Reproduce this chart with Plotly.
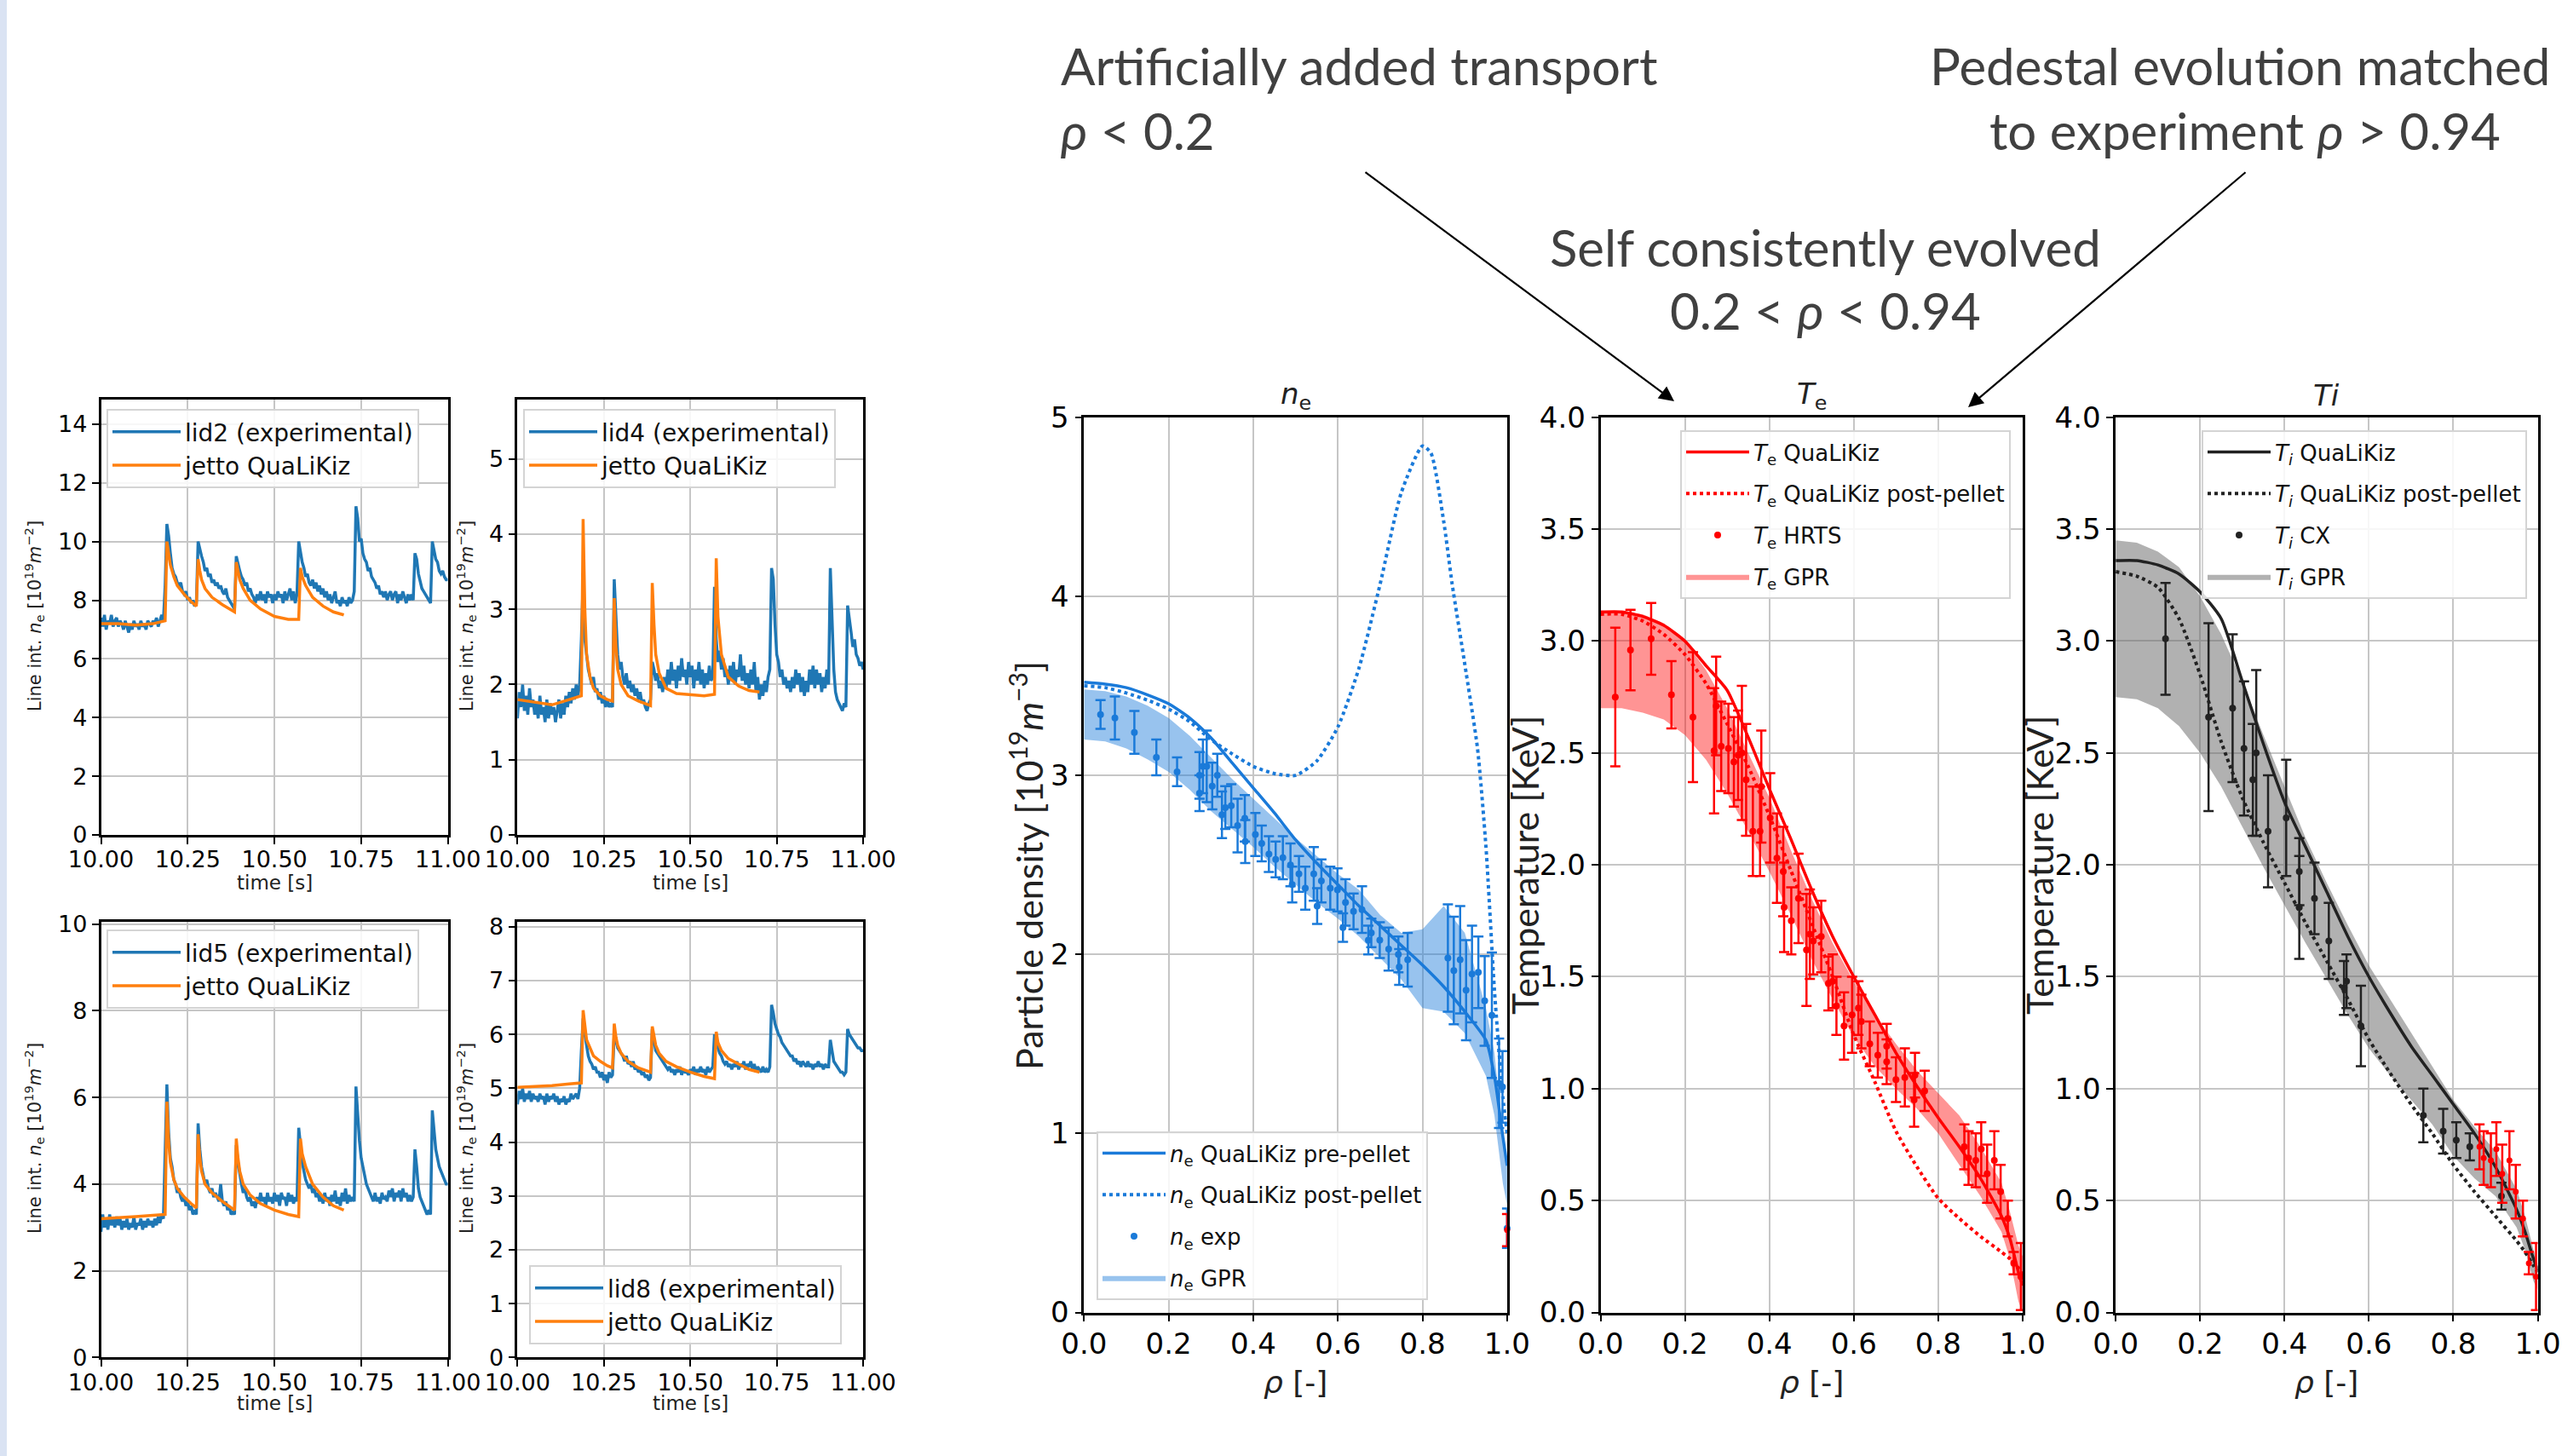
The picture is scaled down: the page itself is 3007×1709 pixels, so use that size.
import plotly.graph_objects as go

W, H = 3007, 1709

# ---------------- line-integrated density time traces ----------------
DT = 0.005  # sampling of experimental traces, starting at 10.00 s
lid2_exp = [7.4, 7.1, 7.5, 7.0, 7.3, 7.2, 7.5, 7.1, 7.3, 7.4,
            7.1, 7.3, 7.2, 7.0, 7.3, 7.1, 6.9, 7.2, 7.0, 7.3,
            7.1, 7.2, 7.0, 7.3, 7.1, 7.2, 7.0, 7.3, 7.2, 7.1,
            7.3, 7.2, 7.4, 7.1, 7.3, 7.5, 7.3,
            8.5, 10.6, 10.2, 9.6, 9.1, 8.9, 8.8, 8.6, 8.5, 8.6, 8.3, 8.2, 8.3, 8.0, 8.1, 7.9, 8.0, 7.8, 7.9,
            10.0, 9.7, 9.5, 9.3, 9.0, 9.1, 8.8, 8.9, 8.6, 8.7, 8.5, 8.6, 8.4, 8.5, 8.3, 8.2, 8.4, 8.1, 8.0, 7.9, 7.8, 7.7,
            9.5, 9.2, 9.0, 8.8, 8.7, 8.5, 8.6, 8.3, 8.4, 8.2, 8.1, 7.9, 8.2, 8.0, 8.3, 8.0, 8.2, 7.9, 8.3, 8.1,
            8.2, 7.9, 8.2, 8.0, 8.3, 8.1, 8.2, 7.9, 8.3, 8.0, 8.2, 8.4, 8.0, 8.3, 7.9, 8.2,
            10.0, 9.6, 9.3, 9.1, 8.8, 8.9, 8.6, 8.5, 8.7, 8.4, 8.6, 8.3, 8.5, 8.2, 8.4, 8.1, 8.3, 8.0, 8.2, 7.9,
            8.1, 8.3, 7.9, 8.0, 7.8, 8.1, 7.9, 8.0, 7.8, 8.1, 7.9, 8.0, 8.3,
            11.2, 10.8, 10.0, 10.1, 9.6, 9.4, 9.3, 9.0, 9.1, 8.8, 8.7, 8.6, 8.4, 8.5, 8.2, 8.3, 8.1, 8.3, 8.0, 8.2,
            8.3, 8.0, 8.2, 8.3, 7.9, 8.2, 8.0, 8.3, 8.1, 7.9, 8.2, 8.0, 8.2, 8.0,
            9.6, 9.4, 8.9, 8.6, 8.4, 8.3, 8.2, 8.1, 8.0, 7.9,
            10.0, 9.7, 9.4, 9.3, 9.0, 8.9, 9.0, 8.8, 8.7, 8.7]
lid4_exp = [1.55, 1.9, 1.7, 2.0, 1.65, 1.85, 1.6, 1.95, 1.7, 1.8,
            1.6, 1.75, 1.55, 1.85, 1.6, 1.7, 1.5, 1.8, 1.55, 1.75,
            1.6, 1.7, 1.5, 1.65, 1.8, 1.55, 1.75, 1.6, 1.85, 1.7,
            1.9, 1.75, 1.95, 1.8, 2.0, 1.85, 2.0,
            2.6, 3.4, 2.6, 2.4, 2.2, 2.1, 2.0, 2.1, 1.9, 1.95, 1.8, 1.9, 1.75, 1.85, 1.7, 1.8, 1.7, 1.75, 1.7,
            3.4, 2.8, 2.4, 2.2, 2.3, 2.1, 2.0, 2.15, 1.95, 2.05, 1.9, 2.0, 1.85, 1.95, 1.8, 1.9, 1.75, 1.8, 1.7, 1.65, 1.75, 1.8,
            2.3, 2.2, 2.05, 2.15, 1.95, 2.05, 1.9, 2.1, 1.95, 2.2, 2.0, 2.3, 2.05, 2.2, 1.95, 2.25, 2.05, 2.35, 2.1, 2.2,
            2.0, 2.3, 2.1, 2.25, 1.95, 2.2, 2.05, 2.3, 2.0, 2.2, 1.95, 2.15, 2.0, 2.25, 2.05, 2.1,
            3.3, 2.6, 2.3, 2.45, 2.2, 2.35, 2.1, 2.2, 2.0, 2.25, 2.05, 2.3, 2.0, 2.2, 2.1, 2.4, 2.05, 2.25, 2.0, 2.15,
            1.95, 2.2, 2.0, 2.3, 1.9, 2.1, 1.8, 2.0, 1.85, 2.05, 1.9, 2.1, 2.2,
            3.55, 3.4, 2.8, 2.4, 2.3, 2.1, 2.2, 2.0, 2.1, 1.95, 2.05, 1.9, 2.1, 1.95, 2.2, 2.0, 2.15, 1.9, 2.1, 1.85,
            2.05, 1.9, 2.2, 2.0, 2.25, 1.95, 2.2, 2.0, 2.15, 1.9, 2.1, 1.95, 2.2, 2.0,
            3.55, 2.9, 2.2, 1.9, 1.8, 1.75, 1.7, 1.65, 1.75, 1.7,
            3.05, 2.9, 2.7, 2.5, 2.6, 2.4, 2.35, 2.25, 2.3, 2.2]
lid5_exp = [2.9, 3.3, 3.0, 3.2, 2.95, 3.3, 3.05, 3.2, 3.0, 3.25,
            3.05, 3.2, 2.95, 3.15, 3.0, 3.2, 2.95, 3.1, 3.0, 3.25,
            2.95, 3.1, 3.05, 3.2, 2.95, 3.15, 3.0, 3.2, 3.05, 3.15,
            3.0, 3.2, 3.05, 3.25, 3.1, 3.3, 3.2,
            4.6, 6.3, 5.2, 4.6, 4.4, 4.1, 4.0, 3.8, 3.9, 3.7, 3.6, 3.7, 3.5, 3.6, 3.4, 3.5, 3.3, 3.4, 3.3,
            5.4, 4.8, 4.4, 4.2, 4.0, 4.1, 3.9, 3.8, 3.9, 3.7, 3.8, 3.7, 3.6, 4.0, 3.6, 3.5, 3.6, 3.4, 3.5, 3.3, 3.35, 3.3,
            4.9, 4.5, 4.2, 4.0, 3.8, 3.9, 3.7, 3.6, 3.7, 3.5, 3.6, 3.45, 3.7, 3.55, 3.8, 3.6, 3.7, 3.5, 3.8, 3.6,
            3.7, 3.55, 3.8, 3.6, 3.75, 3.5, 3.8, 3.65, 3.7, 3.5, 3.8, 3.6, 3.75, 3.55, 3.7, 3.6,
            5.3, 4.9, 4.5, 4.3, 4.1, 4.0, 3.9, 4.0, 3.8, 3.9, 3.7, 3.8, 3.6, 3.75, 3.55, 3.8, 3.6, 3.7, 3.5, 3.75,
            3.6, 3.85, 3.55, 3.7, 3.5, 3.8, 3.6, 3.9, 3.55, 3.75, 3.6, 3.7, 3.6,
            6.25, 5.6, 5.0, 4.6, 4.4, 4.2, 4.0, 3.9, 3.8, 3.7, 3.6, 3.8, 3.6, 3.7, 3.55, 3.8, 3.65, 3.7, 3.6, 3.85,
            3.7, 3.9, 3.6, 3.8, 3.7, 3.85, 3.6, 3.9, 3.7, 3.8, 3.6, 3.75, 3.6, 3.7,
            4.8, 4.4, 3.9, 3.7, 3.6, 3.5, 3.4, 3.3, 3.4, 3.3,
            5.7, 5.2, 4.8, 4.6, 4.4, 4.3, 4.2, 4.1, 4.0, 4.0]
lid8_exp = [4.7, 4.95, 4.8, 5.0, 4.75, 4.9, 4.8, 4.95, 4.75, 4.9,
            4.8, 4.85, 4.75, 4.9, 4.8, 4.85, 4.7, 4.9, 4.75, 4.85,
            4.8, 4.9, 4.75, 4.85, 4.7, 4.8, 4.75, 4.85, 4.7, 4.8,
            4.75, 4.9, 4.8, 4.85, 4.9, 4.8, 5.0,
            5.7, 6.3, 6.0, 5.8, 5.6, 5.5, 5.45, 5.35, 5.4, 5.3, 5.3, 5.2, 5.3, 5.15, 5.25, 5.1, 5.3, 5.2, 5.25,
            6.0, 5.9, 5.75, 5.7, 5.65, 5.6, 5.5, 5.6, 5.45, 5.5, 5.4, 5.5, 5.35, 5.4, 5.3, 5.35, 5.25, 5.3, 5.2, 5.25, 5.15, 5.2,
            6.1, 5.9, 5.7, 5.65, 5.6, 5.55, 5.5, 5.45, 5.4, 5.35, 5.4, 5.3, 5.35, 5.25, 5.35, 5.3, 5.4, 5.25, 5.35, 5.3,
            5.3, 5.25, 5.35, 5.3, 5.4, 5.25, 5.35, 5.3, 5.4, 5.3, 5.35, 5.25, 5.4, 5.3, 5.35, 5.4,
            6.0, 5.85, 5.75, 5.65, 5.6, 5.5, 5.45, 5.5, 5.4, 5.45, 5.35, 5.45, 5.4, 5.5, 5.35, 5.45, 5.4, 5.5, 5.35, 5.45,
            5.4, 5.5, 5.35, 5.45, 5.3, 5.4, 5.35, 5.3, 5.4, 5.3, 5.35, 5.3, 5.4,
            6.55, 6.4, 6.2, 6.1, 6.0, 5.95, 5.85, 5.8, 5.75, 5.7, 5.65, 5.6, 5.6, 5.5, 5.55, 5.45, 5.5, 5.4, 5.5, 5.45,
            5.4, 5.5, 5.4, 5.45, 5.35, 5.45, 5.4, 5.5, 5.4, 5.45, 5.35, 5.45, 5.4, 5.4,
            5.9, 5.7, 5.5, 5.45, 5.4, 5.35, 5.3, 5.3, 5.25, 5.3,
            6.1, 6.0, 5.95, 5.9, 5.85, 5.8, 5.75, 5.75, 5.7, 5.7]

t_sim = [10.00, 10.05, 10.10, 10.15, 10.185, 10.19, 10.195, 10.20, 10.21, 10.22, 10.24, 10.26, 10.275,
         10.28, 10.285, 10.29, 10.30, 10.32, 10.35, 10.385, 10.39, 10.395, 10.40, 10.41, 10.43, 10.46,
         10.50, 10.54, 10.57, 10.575, 10.58, 10.59, 10.61, 10.64, 10.67, 10.70]
lid2_sim = [7.2, 7.2, 7.15, 7.2, 7.3, 10.0, 9.6, 9.2, 8.8, 8.5, 8.2, 7.95, 7.8,
            9.4, 9.0, 8.7, 8.4, 8.1, 7.85, 7.6, 9.3, 9.0, 8.7, 8.4, 8.0, 7.7,
            7.45, 7.35, 7.35, 9.1, 8.8, 8.5, 8.1, 7.8, 7.6, 7.5]
lid4_sim = [1.8, 1.76, 1.73, 1.8, 1.85, 4.2, 3.0, 2.4, 2.1, 1.95, 1.85, 1.8, 1.78,
            3.15, 2.5, 2.2, 2.0, 1.85, 1.78, 1.72, 3.35, 2.8, 2.4, 2.15, 1.95, 1.88,
            1.86, 1.85, 1.87, 3.68, 2.9, 2.4, 2.1, 1.98, 1.92, 1.9]
lid5_sim = [3.2, 3.22, 3.25, 3.28, 3.3, 5.9, 5.0, 4.5, 4.1, 3.9, 3.7, 3.55, 3.45,
            5.15, 4.6, 4.3, 4.0, 3.8, 3.6, 3.4, 5.05, 4.6, 4.3, 4.0, 3.75, 3.55,
            3.4, 3.3, 3.25, 5.05, 4.7, 4.4, 4.0, 3.7, 3.5, 3.4]
lid8_sim = [5.02, 5.03, 5.05, 5.08, 5.1, 6.45, 6.1, 5.9, 5.75, 5.6, 5.5, 5.42, 5.38,
            6.2, 5.95, 5.8, 5.65, 5.5, 5.38, 5.3, 6.15, 5.95, 5.8, 5.65, 5.5, 5.4,
            5.3, 5.22, 5.18, 6.05, 5.85, 5.7, 5.55, 5.45, 5.35, 5.3]

time_ticks = [10.0, 10.25, 10.5, 10.75, 11.0]
time_ticklabels = ["10.00", "10.25", "10.50", "10.75", "11.00"]

# ---------------- profiles ----------------
rho_model = [0.0, 0.05, 0.1, 0.15, 0.2, 0.25, 0.3, 0.35, 0.4, 0.45, 0.5, 0.55, 0.6,
             0.65, 0.7, 0.75, 0.8, 0.85, 0.9, 0.95, 0.97, 0.99, 1.0]
ne_pre = [3.52, 3.51, 3.49, 3.45, 3.40, 3.32, 3.21, 3.07, 2.93, 2.79, 2.64, 2.51, 2.39,
          2.27, 2.16, 2.05, 1.94, 1.82, 1.68, 1.52, 1.32, 0.98, 0.82]
ne_gpr_hi = [3.48, 3.47, 3.44, 3.39, 3.32, 3.22, 3.10, 2.98, 2.87, 2.76, 2.65, 2.55, 2.45,
             2.36, 2.22, 2.12, 2.14, 2.27, 2.12, 1.70, 1.45, 1.00, 0.82]
ne_gpr_lo = [3.20, 3.19, 3.15, 3.09, 3.02, 2.92, 2.80, 2.70, 2.60, 2.49, 2.39, 2.29, 2.20,
             2.10, 1.98, 1.86, 1.70, 1.68, 1.56, 1.32, 1.10, 0.72, 0.60]
rho_ne_post = [0.0, 0.05, 0.1, 0.15, 0.2, 0.25, 0.3, 0.35, 0.4, 0.45, 0.5, 0.55, 0.6, 0.65,
               0.7, 0.75, 0.8, 0.82, 0.85, 0.87, 0.9, 0.93, 0.95, 0.97, 0.99, 1.0]
ne_post = [3.50, 3.49, 3.46, 3.42, 3.37, 3.30, 3.20, 3.12, 3.05, 3.01, 3.00, 3.08, 3.27, 3.60,
           4.07, 4.58, 4.84, 4.80, 4.42, 4.07, 3.62, 3.15, 2.60, 1.80, 1.20, 1.00]
ne_exp_rho = [0.039, 0.073, 0.119, 0.171, 0.220, 0.273, 0.273, 0.281, 0.290, 0.303,
              0.315, 0.326, 0.334, 0.348, 0.363, 0.380, 0.381, 0.405, 0.420, 0.437,
              0.453, 0.470, 0.488, 0.492, 0.508, 0.523, 0.543, 0.551, 0.561, 0.582,
              0.599, 0.612, 0.618, 0.637, 0.657, 0.672, 0.679, 0.699, 0.720, 0.743,
              0.745, 0.765, 0.860, 0.874, 0.889, 0.903, 0.917, 0.932, 0.947, 0.964,
              0.981, 0.989, 1.0]
ne_exp = [3.34, 3.32, 3.24, 3.10, 3.02, 3.00, 2.90, 3.05, 3.05, 2.94,
          3.00, 2.78, 2.82, 2.83, 2.72, 2.76, 2.63, 2.67, 2.62, 2.56,
          2.53, 2.54, 2.50, 2.39, 2.45, 2.37, 2.45, 2.27, 2.41, 2.37,
          2.36, 2.15, 2.29, 2.24, 2.25, 2.08, 2.12, 2.08, 2.03, 2.00,
          1.93, 1.97, 1.98, 1.91, 1.97, 1.80, 1.89, 1.90, 1.74, 1.66,
          1.28, 1.26, 0.47]
ne_exp_err = [0.08, 0.12, 0.12, 0.10, 0.08, 0.13, 0.10, 0.15, 0.20, 0.13,
              0.12, 0.13, 0.12, 0.12, 0.15, 0.13, 0.12, 0.12, 0.10, 0.10,
              0.10, 0.12, 0.12, 0.10, 0.10, 0.12, 0.15, 0.10, 0.12, 0.12,
              0.12, 0.08, 0.13, 0.10, 0.13, 0.08, 0.08, 0.10, 0.12, 0.10,
              0.10, 0.15, 0.30, 0.30, 0.30, 0.28, 0.27, 0.20, 0.25, 0.35,
              0.25, 0.20, 0.11]
ne_edge_rho = [1.0]
ne_edge_val = [0.46]
ne_edge_err = [0.09]

te_qlk = [3.13, 3.13, 3.11, 3.07, 3.00, 2.89, 2.78, 2.57, 2.34, 2.12, 1.89, 1.68, 1.50,
          1.33, 1.16, 1.01, 0.87, 0.74, 0.60, 0.43, 0.33, 0.18, 0.12]
te_post = [3.12, 3.12, 3.09, 3.03, 2.94, 2.81, 2.63, 2.44, 2.22, 1.98, 1.74, 1.50, 1.24,
           1.03, 0.81, 0.65, 0.51, 0.42, 0.34, 0.27, 0.24, 0.20, 0.17]
te_gpr_hi = [3.13, 3.13, 3.12, 3.08, 3.00, 2.87, 2.70, 2.50, 2.30, 2.07, 1.85, 1.65, 1.48,
             1.33, 1.20, 1.08, 0.98, 0.88, 0.74, 0.58, 0.45, 0.30, 0.25]
te_gpr_lo = [2.70, 2.70, 2.68, 2.65, 2.58, 2.47, 2.32, 2.15, 1.97, 1.78, 1.58, 1.40, 1.23,
             1.10, 1.00, 0.91, 0.80, 0.66, 0.52, 0.36, 0.24, 0.05, 0.00]
te_hrts_rho = [0.035, 0.071, 0.120, 0.168, 0.219, 0.269, 0.274, 0.286, 0.303, 0.316,
               0.326, 0.335, 0.345, 0.361, 0.378, 0.381, 0.402, 0.418, 0.433, 0.435,
               0.452, 0.469, 0.488, 0.496, 0.504, 0.523, 0.540, 0.550, 0.559, 0.577,
               0.596, 0.611, 0.618, 0.638, 0.657, 0.678, 0.678, 0.700, 0.721, 0.743,
               0.745, 0.768, 0.862, 0.872, 0.889, 0.902, 0.916, 0.933, 0.948, 0.965,
               0.979, 0.996]
te_hrts = [2.75, 2.96, 3.01, 2.76, 2.66, 2.51, 2.71, 2.53, 2.52, 2.46,
           2.49, 2.50, 2.38, 2.15, 2.15, 2.35, 2.21, 2.03, 1.97, 1.81,
           1.75, 1.85, 1.62, 1.69, 1.66, 1.68, 1.47, 1.48, 1.37, 1.28,
           1.33, 1.36, 1.30, 1.20, 1.15, 1.19, 1.12, 1.04, 1.05, 0.95,
           1.06, 0.99, 0.74, 0.69, 0.68, 0.73, 0.62, 0.68, 0.54, 0.42,
           0.22, 0.16]
te_hrts_err = [0.31, 0.18, 0.16, 0.15, 0.29, 0.28, 0.22, 0.20, 0.20, 0.20,
               0.20, 0.30, 0.25, 0.20, 0.20, 0.25, 0.20, 0.20, 0.20, 0.20,
               0.15, 0.20, 0.25, 0.20, 0.15, 0.16, 0.12, 0.12, 0.13, 0.15,
               0.17, 0.12, 0.12, 0.10, 0.10, 0.10, 0.10, 0.10, 0.13, 0.12,
               0.10, 0.09, 0.10, 0.12, 0.12, 0.12, 0.13, 0.13, 0.12, 0.08,
               0.05, 0.15]

ti_qlk = [3.36, 3.36, 3.34, 3.30, 3.22, 3.10, 2.82, 2.54, 2.28, 2.08, 1.88, 1.68, 1.50,
          1.34, 1.19, 1.06, 0.93, 0.80, 0.65, 0.46, 0.36, 0.24, 0.19]
ti_post = [3.31, 3.29, 3.24, 3.10, 2.85, 2.55, 2.30, 2.10, 1.92, 1.74, 1.57, 1.40, 1.22,
           1.07, 0.93, 0.80, 0.66, 0.54, 0.43, 0.32, 0.27, 0.21, 0.18]
ti_gpr_hi = [3.45, 3.44, 3.40, 3.33, 3.20, 3.03, 2.82, 2.58, 2.35, 2.12, 1.92, 1.73, 1.55,
             1.40, 1.25, 1.10, 0.95, 0.83, 0.72, 0.55, 0.43, 0.28, 0.22]
ti_gpr_lo = [2.75, 2.74, 2.70, 2.62, 2.50, 2.35, 2.17, 1.99, 1.82, 1.65, 1.49, 1.33, 1.18,
             1.06, 0.95, 0.84, 0.70, 0.60, 0.52, 0.38, 0.28, 0.14, 0.10]
ti_cx_rho = [0.118, 0.220, 0.277, 0.304, 0.325, 0.333, 0.361, 0.404, 0.435, 0.435,
             0.471, 0.505, 0.541, 0.547, 0.581, 0.729, 0.776, 0.807, 0.839, 0.914]
ti_cx = [3.01, 2.66, 2.70, 2.52, 2.38, 2.50, 2.15, 2.21, 1.97, 1.81,
         1.85, 1.66, 1.45, 1.48, 1.28, 0.88, 0.81, 0.77, 0.74, 0.52]
ti_cx_err = [0.25, 0.42, 0.33, 0.30, 0.25, 0.37, 0.25, 0.26, 0.15, 0.23,
             0.16, 0.17, 0.12, 0.12, 0.18, 0.12, 0.10, 0.08, 0.06, 0.06]

# ---------------- styling ----------------
C_BLUE_MPL = "#1f77b4"
C_ORANGE_MPL = "#ff7f0e"
C_NE = "#1a7ad9"
C_TE = "#ff0000"
C_TI = "#222222"


def px(x):
    return x / W


def py(y):
    return 1 - y / H


def t_axis(vals):
    return [round(10 + DT * i, 4) for i in range(len(vals))]


fig = go.Figure()

small = [
    (1, lid2_exp, lid2_sim, "lid2 (experimental)", "legend"),
    (2, lid4_exp, lid4_sim, "lid4 (experimental)", "legend2"),
    (3, lid5_exp, lid5_sim, "lid5 (experimental)", "legend3"),
    (4, lid8_exp, lid8_sim, "lid8 (experimental)", "legend4"),
]
for idx, exp, sim, lab, leg in small:
    xr = "x" if idx == 1 else f"x{idx}"
    yr = "y" if idx == 1 else f"y{idx}"
    fig.add_trace(go.Scatter(x=t_axis(exp), y=exp, mode="lines", name=lab,
                             line=dict(color=C_BLUE_MPL, width=3.5),
                             xaxis=xr, yaxis=yr, legend=leg))
    fig.add_trace(go.Scatter(x=t_sim, y=sim, mode="lines", name="jetto QuaLiKiz",
                             line=dict(color=C_ORANGE_MPL, width=3.5),
                             xaxis=xr, yaxis=yr, legend=leg))


def band(rho, lo, hi):
    return list(rho) + list(rho[::-1]), list(hi) + list(lo[::-1])


def profile(idx, leg, color, fillcol, solid, dotted_rho, dotted, gpr_lo, gpr_hi,
            prho, pval, perr, names):
    xr, yr = f"x{idx}", f"y{idx}"
    bx, by = band(rho_model, gpr_lo, gpr_hi)
    fig.add_trace(go.Scatter(x=bx, y=by, fill="toself", fillcolor=fillcol, mode="lines",
                             line=dict(width=0, color=fillcol), name=names[3],
                             xaxis=xr, yaxis=yr, legend=leg, legendrank=4,
                             legendgroup=f"{leg}d"))
    fig.add_trace(go.Scatter(x=rho_model, y=solid, mode="lines", name=names[0],
                             line=dict(color=color, width=3.5, shape="spline", smoothing=0.6),
                             xaxis=xr, yaxis=yr, legend=leg, legendrank=1,
                             legendgroup=f"{leg}a"))
    fig.add_trace(go.Scatter(x=dotted_rho, y=dotted, mode="lines", name=names[1],
                             line=dict(color=color, width=4, dash="dot", shape="spline",
                                       smoothing=0.6),
                             xaxis=xr, yaxis=yr, legend=leg, legendrank=2,
                             legendgroup=f"{leg}b"))
    fig.add_trace(go.Scatter(x=prho, y=pval, mode="markers", name=names[2],
                             marker=dict(color=color, size=8),
                             error_y=dict(type="data", array=perr, color=color,
                                          thickness=2.5, width=6),
                             cliponaxis=False,
                             xaxis=xr, yaxis=yr, legend=leg, legendrank=3,
                             legendgroup=f"{leg}c"))


NE = "<i>n</i><sub>e</sub>"
TE = "<i>T</i><sub>e</sub>"
TI = "<i>T</i><sub><i>i</i></sub>"
profile(5, "legend5", C_NE, "rgba(26,122,217,0.45)", ne_pre, rho_ne_post, ne_post,
        ne_gpr_lo, ne_gpr_hi, ne_exp_rho, ne_exp, ne_exp_err,
        [f"{NE} QuaLiKiz pre-pellet", f"{NE} QuaLiKiz post-pellet", f"{NE} exp", f"{NE} GPR"])
fig.add_trace(go.Scatter(x=ne_edge_rho, y=ne_edge_val, mode="markers", showlegend=False,
                         marker=dict(color=C_TE, size=7),
                         error_y=dict(type="data", array=ne_edge_err, color=C_TE,
                                      thickness=2.5, width=6),
                         cliponaxis=False, xaxis="x5", yaxis="y5"))
profile(6, "legend6", C_TE, "rgba(255,0,0,0.42)", te_qlk, rho_model, te_post,
        te_gpr_lo, te_gpr_hi, te_hrts_rho, te_hrts, te_hrts_err,
        [f"{TE} QuaLiKiz", f"{TE} QuaLiKiz post-pellet", f"{TE} HRTS", f"{TE} GPR"])
profile(7, "legend7", C_TI, "rgba(100,100,100,0.5)", ti_qlk, rho_model, ti_post,
        ti_gpr_lo, ti_gpr_hi, ti_cx_rho, ti_cx, ti_cx_err,
        [f"{TI} QuaLiKiz", f"{TI} QuaLiKiz post-pellet", f"{TI} CX", f"{TI} GPR"])
edge_rho = [r for r in te_hrts_rho if r > 0.85]
edge_val = [v for r, v in zip(te_hrts_rho, te_hrts) if r > 0.85]
edge_err = [e for r, e in zip(te_hrts_rho, te_hrts_err) if r > 0.85]
fig.add_trace(go.Scatter(x=edge_rho, y=edge_val, mode="markers", showlegend=False,
                         marker=dict(color=C_TE, size=7),
                         error_y=dict(type="data", array=edge_err, color=C_TE,
                                      thickness=2.5, width=6),
                         cliponaxis=False, xaxis="x7", yaxis="y7"))

# ---------------- axes ----------------
common = dict(showline=True, mirror=True, linecolor="black", linewidth=2.5,
              ticks="outside", ticklen=8, tickwidth=2, tickcolor="black",
              showgrid=True, gridcolor="#c6c6c6", gridwidth=2, zeroline=False,
              automargin=False, fixedrange=True)
small_font = dict(family="DejaVu Sans", size=27, color="black")
big_font = dict(family="DejaVu Sans", size=34, color="black")

sx_left = [px(118.5), px(525.7)]
sx_right = [px(607.3), px(1013.1)]
sy_top = [py(980), py(469)]
sy_bot = [py(1593.4), py(1081.5)]
small_specs = [
    (1, sx_left, sy_top, [0, 14.84], 2),
    (2, sx_right, sy_top, [0, 5.79], 1),
    (3, sx_left, sy_bot, [0, 10.06], 2),
    (4, sx_right, sy_bot, [0, 8.1], 1),
]
layout_axes = {}
for idx, xd, yd, yrange, dt in small_specs:
    xs = "xaxis" if idx == 1 else f"xaxis{idx}"
    ys = "yaxis" if idx == 1 else f"yaxis{idx}"
    an_y = "y" if idx == 1 else f"y{idx}"
    an_x = "x" if idx == 1 else f"x{idx}"
    layout_axes[xs] = dict(domain=xd, anchor=an_y, range=[10, 11], tickvals=time_ticks,
                           ticktext=time_ticklabels, tickfont=small_font,
                           ticklabelstandoff=-5, **common)
    layout_axes[ys] = dict(domain=yd, anchor=an_x, range=yrange, dtick=dt, tick0=0,
                           tickfont=small_font, **common)

big_y = [py(1540.5), py(489.8)]
big_specs = [
    (5, [px(1272.3), px(1768.9)], [0, 5], 1, None),
    (6, [px(1878.5), px(2373.9)], [0, 4], 0.5, ".1f"),
    (7, [px(2483.2), px(2978.5)], [0, 4], 0.5, ".1f"),
]
for idx, xd, yrange, dt, fmt in big_specs:
    layout_axes[f"xaxis{idx}"] = dict(domain=xd, anchor=f"y{idx}", range=[0, 1], dtick=0.2,
                                      tick0=0, tickformat=".1f", tickfont=big_font,
                                      ticklabelstandoff=-3, **common)
    yd = dict(domain=big_y, anchor=f"x{idx}", range=yrange, dtick=dt, tick0=0,
              tickfont=big_font, **common)
    if fmt:
        yd["tickformat"] = fmt
    layout_axes[f"yaxis{idx}"] = yd

# ---------------- legends ----------------
small_leg = dict(font=dict(family="DejaVu Sans", size=28, color="#111111"),
                 bgcolor="rgba(255,255,255,0.85)", bordercolor="#d4d4d4", borderwidth=2,
                 itemwidth=80, xanchor="left", yanchor="top")
big_leg = dict(font=dict(family="DejaVu Sans", size=26, color="#111111"),
               bgcolor="rgba(255,255,255,0.85)", bordercolor="#d4d4d4", borderwidth=2,
               itemwidth=74, traceorder="grouped", tracegroupgap=12)
legends = dict(
    legend=dict(small_leg, x=px(125), y=py(480)),
    legend2=dict(small_leg, x=px(614), y=py(480)),
    legend3=dict(small_leg, x=px(125), y=py(1091)),
    legend4=dict(small_leg, x=px(621), y=py(1578), yanchor="bottom"),
    legend5=dict(big_leg, x=px(1287), y=py(1526), xanchor="left", yanchor="bottom"),
    legend6=dict(big_leg, x=px(2360), y=py(505), xanchor="right", yanchor="top"),
    legend7=dict(big_leg, x=px(2966), y=py(505), xanchor="right", yanchor="top"),
)

# ---------------- annotations ----------------
ann = []
ylab_small = "Line int. <i>n</i><sub>e</sub> [10<sup>19</sup><i>m</i><sup>−2</sup>]"
for xc, yc in [(40, 723), (547, 723), (40, 1336), (547, 1336)]:
    ann.append(dict(text=ylab_small, x=px(xc), y=py(yc), xref="paper", yref="paper",
                    textangle=-90, showarrow=False, xanchor="center", yanchor="middle",
                    font=dict(family="DejaVu Sans", size=21, color="#222222")))
for xc, yc in [(322, 1036), (810, 1036), (322, 1647), (810, 1647)]:
    ann.append(dict(text="time [s]", x=px(xc), y=py(yc), xref="paper", yref="paper",
                    showarrow=False, xanchor="center", yanchor="middle",
                    font=dict(family="DejaVu Sans", size=23, color="#222222")))

for xc in [1520.6, 2126.2, 2730.9]:
    ann.append(dict(text="<i>ρ</i> [-]", x=px(xc), y=py(1622), xref="paper", yref="paper",
                    showarrow=False, xanchor="center", yanchor="middle",
                    font=dict(family="DejaVu Sans", size=36, color="#222222")))
for xc, t in [(1520.6, NE), (2126.2, TE), (2730.9, "<i>Ti</i>")]:
    ann.append(dict(text=t, x=px(xc), y=py(464), xref="paper", yref="paper",
                    showarrow=False, xanchor="center", yanchor="middle",
                    font=dict(family="DejaVu Sans", size=34, color="#222222")))

ann.append(dict(text="Particle density [10<sup>19</sup><i>m</i><sup>−3</sup>]",
                x=px(1204), y=py(1016), xref="paper", yref="paper", textangle=-90,
                showarrow=False, xanchor="center", yanchor="middle",
                font=dict(family="Lato", size=43, color="#222222")))
for xc in [1789, 2393]:
    ann.append(dict(text="Temperature [KeV]", x=px(xc), y=py(1016), xref="paper",
                    yref="paper", textangle=-90, showarrow=False, xanchor="center",
                    yanchor="middle", font=dict(family="Lato", size=43, color="#222222")))

note_font = dict(family="Lato", size=60, color="#404040")
notes = [
    ("Artificially added transport", 1243, 77, "left"),
    ("<i>ρ</i> &lt; 0.2", 1243, 153, "left"),
    ("Pedestal evolution matched", 2995, 77, "right"),
    ("to experiment <i>ρ</i> &gt; 0.94", 2635, 153, "center"),
    ("Self consistently evolved", 2142, 290, "center"),
    ("0.2 &lt; <i>ρ</i> &lt; 0.94", 2142, 364, "center"),
]
for t, xx, yy, anc in notes:
    ann.append(dict(text=t, x=px(xx), y=py(yy), xref="paper", yref="paper",
                    showarrow=False, xanchor=anc, yanchor="middle", font=note_font))

for hx, hy, tx, ty in [(1965, 471, 1601, 201), (2310, 478, 2637, 201)]:
    ann.append(dict(text="", x=px(hx), y=py(hy), xref="paper", yref="paper",
                    ax=tx - hx, ay=ty - hy, axref="pixel", ayref="pixel",
                    showarrow=True, arrowhead=2, arrowsize=1.6, arrowwidth=2.2,
                    arrowcolor="black"))

fig.update_layout(
    width=W, height=H, margin=dict(l=0, r=0, t=0, b=0),
    paper_bgcolor="white", plot_bgcolor="white",
    font=dict(family="DejaVu Sans", color="black"),
    annotations=ann,
    shapes=[dict(type="rect", xref="paper", yref="paper", x0=0, x1=px(8), y0=0, y1=1,
                 fillcolor="#dae3f3", line=dict(width=0), layer="below")],
    **layout_axes, **legends,
)

fig.write_html("out.html", config={"displayModeBar": False},
               post_script="document.body.style.margin='0';document.body.style.overflow='hidden';")
